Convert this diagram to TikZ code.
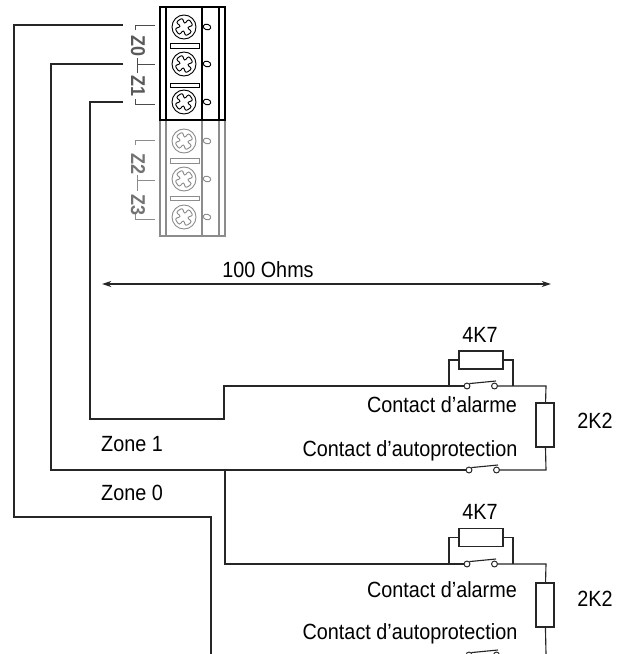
\documentclass[tikz,border=0pt]{standalone}
\usepackage{fontspec}
\setmainfont[FakeStretch=0.9]{Liberation Sans}
\usetikzlibrary{arrows.meta}
\tikzset{
	wire/.style={draw=black!85, line width=0.85pt},
	resistor/.style={draw=black!85, line width=0.85pt, fill=white, inner sep=0pt},
	label/.style={inner sep=0pt, font=\fontsize{16.5}{18}\selectfont},
	zonetag/.style={inner sep=0pt, rotate=-90, font=\fontsize{15}{16}\selectfont\bfseries},
	contactpin/.style={circle, draw=black!85, line width=0.75pt, fill=white, inner sep=0pt, minimum size=4.4pt},
}
% screw head with its cross, then the oval hole beside it
\def\screwhead[#1](#2,#3){
	\draw[#1, line width=0.7pt] (#2, #3) circle (12);
	\draw[#1, line width=0.7pt, rounded corners=1.8pt, rotate around={35:(#2, #3)}]
		(#2-2, #3-2) -- (#2-8.5, #3-4) -- (#2-8.5, #3+4) -- (#2-2, #3+2) -- (#2-4, #3+8.5) -- (#2+4, #3+8.5) -- (#2+2, #3+2)
		-- (#2+8.5, #3+4) -- (#2+8.5, #3-4) -- (#2+2, #3-2) -- (#2+4, #3-8.5) -- (#2-4, #3-8.5) -- cycle;
	\draw[#1, line width=0.7pt, rotate around={-15:(207, #3)}] (207, #3) ellipse (3.8 and 2.8);
}
\def\contact(#1,#2)(#3)(#4){
	\node[contactpin] (#3) at (#1, #2) {};
	\node[contactpin] (#4) at (#1+27.5, #2) {};
	\draw[wire] (#3.north east) -- (#1+29, #2-5);
}

\begin{document}
\begin{tikzpicture}[x=0.75pt, y=-0.75pt]
	\useasboundingbox (0, 0) rectangle (626, 654);
	%%%%% TERMINAL BLOCK %%%%%
	\draw[black!45, line width=1.7pt] (160, 120) rectangle (225, 236);
	\draw[black!45, line width=0.8pt] (166, 120) -- (166, 236);
	\draw[black!45, line width=0.8pt] (202, 120) -- (202, 236);
	\draw[black!45, line width=0.8pt] (219, 120) -- (219, 236);
	\draw[black, line width=0.8pt] (166, 7) -- (166, 120);
	\draw[black, line width=0.8pt] (202, 7) -- (202, 120);
	\draw[black, line width=0.8pt] (219, 7) -- (219, 120);
	\draw[black, line width=1.8pt] (160, 7) rectangle (225, 120);

	\foreach \y in {27, 64, 102} {\screwhead[black](184, \y)}
	\foreach \y in {141, 179, 217} {\screwhead[black!45](184, \y)}

	\draw[black, line width=0.7pt] (170, 43.5) rectangle (199, 48);
	\draw[black, line width=0.7pt] (170, 83) rectangle (199, 87.5);
	\draw[black!45, line width=0.7pt] (170, 158.5) rectangle (199, 163);
	\draw[black!45, line width=0.7pt] (170, 196) rectangle (199, 200.5);

	\draw[black!70, line width=0.6pt] (135, 30) -- (135, 25) -- (155, 25);
	\draw[black!70, line width=0.6pt] (137, 58) -- (137, 73);
	\draw[black!70, line width=0.6pt] (137, 64) -- (155, 64);
	\draw[black!70, line width=0.6pt] (135, 99) -- (135, 104) -- (155, 104);
	\draw[black!45, line width=0.6pt] (135, 145) -- (135, 140) -- (155, 140);
	\draw[black!45, line width=0.6pt] (137, 175) -- (137, 191);
	\draw[black!45, line width=0.6pt] (137, 180) -- (155, 180);
	\draw[black!45, line width=0.6pt] (135, 214) -- (135, 219) -- (155, 219);

	\node[zonetag, text=black!65] (tagzero) at (138, 46) {Z0};
	\node[zonetag, text=black!65] (tagone) at (138, 86) {Z1};
	\node[zonetag, text=black!55] (tagtwo) at (138, 164) {Z2};
	\node[zonetag, text=black!55] (tagthree) at (138, 205) {Z3};

	%%%%% RUN LENGTH %%%%%
	\coordinate (runleft) at (102, 284);
	\coordinate (runright) at (551, 284);
	\draw[black!85, line width=0.85pt, {Stealth[length=7pt, width=4.5pt]}-{Stealth[length=7pt, width=4.5pt]}] (runleft) -- (runright);
	\node[label] (runlabel) at (268, 270) {100 Ohms};

	%%%%% ZONE 1 %%%%%
	\coordinate (wireone) at (123, 102);
	\coordinate (lineone) at (546, 386);
	\coordinate (returnone) at (546, 470);
	\coordinate (commonone) at (123, 64);
	\coordinate (shuntonea) at (449, 386);
	\coordinate (shuntoneb) at (513, 386);
	\contact(467, 386)(pinonea)(pinoneb)
	\contact(469, 470)(tamperonea)(tamperoneb)
	\node[resistor, minimum width=44pt*0.75, minimum height=18pt*0.75] (shuntone) at (481, 360) {};
	\node[resistor, minimum width=18pt*0.75, minimum height=44pt*0.75] (loadone) at (545, 425) {};
	\draw[wire] (wireone) -| (90, 419) -- (224, 419) |- (pinonea);
	\draw[wire] (pinoneb) -- (lineone) -- (loadone);
	\draw[wire] (loadone) -- (returnone) -- (tamperoneb);
	\draw[wire] (commonone) -| (51, 470) -- (tamperonea);
	\draw[wire] (shuntonea) |- (shuntone);
	\draw[wire] (shuntoneb) |- (shuntone);
	\node[label] (shuntonelabel) at (480, 335) {4K7};
	\node[label] (loadonelabel) at (595, 421) {2K2};
	\node[label] (alarmone) at (442, 405) {Contact d’alarme};
	\node[label] (tamperone) at (410, 451) {Contact d’autoprotection};
	\node[label] (zoneone) at (132, 444) {Zone 1};
	\node[label] (zonezero) at (132, 493) {Zone 0};

	%%%%% ZONE 0 %%%%%
	\coordinate (wirezero) at (123, 25);
	\coordinate (commontwo) at (225, 470);
	\coordinate (linetwo) at (546, 564);
	\coordinate (returntwo) at (546, 654);
	\coordinate (endzero) at (211, 654);
	\coordinate (shunttwoa) at (449, 564);
	\coordinate (shunttwob) at (513, 564);
	\contact(467, 564)(pintwoa)(pintwob)
	\contact(469, 655)(tampertwoa)(tampertwob)
	\node[resistor, minimum width=44pt*0.75, minimum height=18pt*0.75] (shunttwo) at (481, 537.5) {};
	\node[resistor, minimum width=18pt*0.75, minimum height=44pt*0.75] (loadtwo) at (545, 605) {};
	\draw[wire] (wirezero) -| (14, 517) -| (endzero);
	\draw[wire] (commontwo) |- (pintwoa);
	\draw[wire] (pintwob) -- (linetwo) -- (loadtwo);
	\draw[wire] (loadtwo) -- (returntwo);
	\draw[wire] (shunttwoa) |- (shunttwo);
	\draw[wire] (shunttwob) |- (shunttwo);
	\node[label] (shunttwolabel) at (480, 512) {4K7};
	\node[label] (loadtwolabel) at (595, 599) {2K2};
	\node[label] (alarmtwo) at (442, 590) {Contact d’alarme};
	\node[label] (tampertwo) at (410, 634) {Contact d’autoprotection};
\end{tikzpicture}
\end{document}
